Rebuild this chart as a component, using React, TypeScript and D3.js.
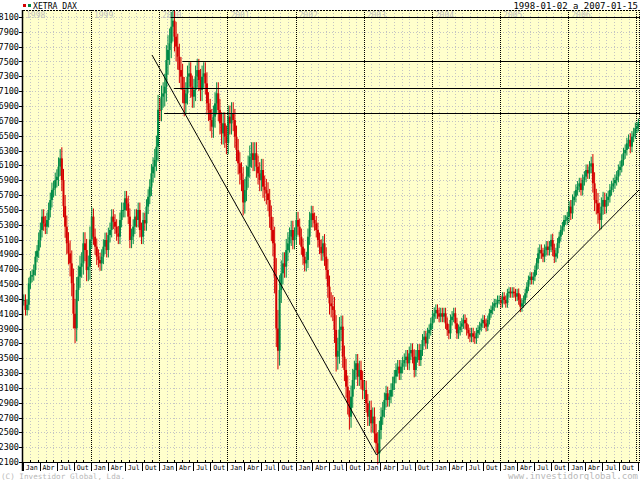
import React from "react";
import * as d3 from "d3";

// ---- data (approximate closes, ~weekly) ----
const Y1998 = [4285, 4150, 4220, 4509, 4599, 4620, 4688, 4868, 4950, 5093, 5228, 5408, 5318, 5273, 5363, 5498, 5632, 5767, 5790, 5902, 5947, 6082, 6194, 5902, 5550, 5273, 5048, 4913, 4778, 4509, 4100, 3902, 4419, 4599, 4733, 4778, 5048, 4958, 4688, 4733, 5100];
const Y1999 = [5408, 5138, 5003, 4868, 4823, 4778, 4868, 5003, 5093, 4958, 5160, 5228, 5408, 5340, 5273, 5183, 5138, 5363, 5498, 5498, 5655, 5588, 5408, 5093, 5138, 5273, 5408, 5363, 5498, 5228, 5138, 5363, 5318, 5543, 5677, 5812, 5992, 6082, 6172, 6351, 6850];
const Y2000 = [6846, 7026, 7070, 7160, 7520, 7655, 7745, 7969, 8050, 7835, 7700, 7565, 7385, 7295, 7116, 6936, 7070, 7295, 7340, 7160, 7026, 7116, 7295, 7385, 7250, 7116, 7295, 7340, 7205, 6936, 6846, 6711, 6621, 6756, 6936, 7070, 6846, 6666, 6531, 6666, 6486, 6400];
const Y2001 = [6756, 6666, 6801, 6711, 6486, 6306, 6127, 5992, 5902, 5600, 5767, 5947, 6082, 6217, 6262, 6172, 6262, 6082, 5992, 5902, 6037, 5812, 5767, 5722, 5632, 5408, 5228, 5048, 4599, 3900, 3600, 4419, 4644, 4778, 4734, 4958, 5048, 5138, 5228, 5093, 5138];
const Y2002 = [5363, 5273, 5138, 5003, 4868, 4779, 4824, 5138, 5363, 5453, 5363, 5318, 5228, 5093, 5003, 4914, 5048, 4869, 4689, 4464, 4239, 4200, 4150, 3880, 3520, 3600, 3880, 3925, 3520, 3341, 3116, 2891, 2711, 2981, 3206, 3341, 3431, 3251, 3341, 3206, 3071];
const Y2003 = [3071, 2891, 2711, 2801, 2621, 2711, 2487, 2352, 2217, 2531, 2711, 2801, 2936, 3026, 2936, 2981, 3071, 3161, 3251, 3341, 3385, 3296, 3385, 3431, 3475, 3520, 3431, 3565, 3610, 3520, 3341, 3520, 3610, 3475, 3610, 3745, 3790, 3700, 3835, 3880, 3970];
const Y2004 = [4060, 4105, 4150, 4105, 4060, 4105, 4060, 4105, 3970, 3880, 3835, 4015, 4060, 4105, 3970, 3835, 3880, 3925, 3970, 4015, 3970, 3880, 3835, 3790, 3835, 3790, 3768, 3835, 3880, 3925, 3970, 4015, 3970, 3925, 4015, 4105, 4150, 4195, 4240, 4240, 4285, 4285];
const Y2005 = [4240, 4330, 4285, 4240, 4375, 4397, 4375, 4397, 4375, 4330, 4375, 4285, 4195, 4240, 4285, 4375, 4464, 4554, 4599, 4554, 4599, 4689, 4779, 4914, 4959, 4914, 4869, 4959, 5004, 4959, 5004, 5094, 4959, 4869, 4914, 5049, 5139, 5228, 5273, 5363, 5363, 5408];
const Y2006 = [5543, 5453, 5633, 5678, 5768, 5813, 5857, 5768, 5902, 5947, 6037, 5992, 6082, 6127, 5857, 5633, 5588, 5453, 5363, 5543, 5633, 5543, 5633, 5678, 5768, 5813, 5857, 5902, 5947, 6037, 6082, 6172, 6262, 6307, 6397, 6442, 6352, 6487, 6532, 6599];
const Y2007 = [6621, 6666];

// estimated height (points) of the daily high-low band around each sample
const S1998 = [150, 150, 150, 150, 150, 150, 150, 150, 150, 200, 200, 200, 200, 200, 200, 200, 200, 200, 200, 200, 200, 250, 250, 300, 300, 300, 300, 300, 350, 350, 400, 400, 350, 300, 300, 300, 300, 300, 300, 300, 350];
const S1999 = [250, 220, 220, 220, 200, 200, 200, 200, 200, 200, 200, 200, 200, 200, 200, 200, 200, 200, 200, 200, 200, 200, 200, 220, 220, 200, 200, 200, 200, 200, 200, 200, 200, 200, 200, 200, 250, 250, 300, 300, 400];
const S2000 = [300, 300, 300, 350, 400, 400, 400, 400, 400, 400, 400, 350, 350, 350, 350, 350, 300, 300, 300, 300, 300, 300, 300, 300, 300, 300, 300, 300, 300, 300, 300, 300, 300, 300, 300, 300, 300, 300, 300, 300, 300, 300];
const S2001 = [300, 300, 300, 300, 300, 300, 300, 300, 300, 350, 300, 300, 300, 300, 300, 300, 300, 300, 300, 300, 300, 300, 300, 300, 300, 300, 300, 350, 450, 500, 500, 400, 350, 300, 300, 300, 300, 250, 250, 250, 250];
const S2002 = [220, 220, 220, 220, 220, 220, 220, 220, 220, 200, 200, 200, 200, 200, 200, 200, 200, 250, 250, 300, 300, 300, 300, 350, 400, 350, 350, 300, 300, 300, 300, 300, 350, 300, 300, 250, 250, 250, 250, 250, 250];
const S2003 = [250, 250, 250, 250, 250, 250, 250, 250, 300, 250, 250, 220, 200, 200, 180, 180, 180, 180, 180, 180, 180, 180, 180, 180, 180, 180, 180, 180, 180, 180, 200, 180, 160, 160, 160, 160, 160, 160, 150, 150, 150];
const S2004 = [160, 160, 150, 150, 150, 150, 150, 150, 150, 160, 160, 150, 150, 150, 150, 150, 150, 150, 150, 150, 150, 150, 150, 150, 150, 150, 150, 150, 130, 130, 130, 130, 130, 130, 120, 120, 120, 120, 120, 120, 120, 120];
const S2005 = [120, 120, 120, 120, 120, 120, 120, 120, 120, 120, 120, 130, 150, 140, 120, 120, 120, 120, 120, 120, 120, 120, 140, 150, 150, 150, 150, 150, 150, 150, 150, 150, 170, 170, 150, 140, 130, 130, 130, 130, 130, 130];
const S2006 = [150, 180, 150, 150, 150, 150, 150, 150, 150, 150, 150, 150, 150, 180, 250, 300, 300, 280, 280, 250, 220, 200, 180, 160, 160, 150, 150, 150, 150, 150, 150, 150, 150, 150, 150, 150, 180, 150, 150, 150];
const S2007 = [130, 130];

const YEARS = [1998, 1999, 2000, 2001, 2002, 2003, 2004, 2005, 2006, 2007];
const CLOSES = [Y1998, Y1999, Y2000, Y2001, Y2002, Y2003, Y2004, Y2005, Y2006, Y2007];
const SPREADS = [S1998, S1999, S2000, S2001, S2002, S2003, S2004, S2005, S2006, S2007];

const START = "1998-01-02";
const END = "2007-01-15";
const Y_TICKS = d3.range(2100, 8101, 200);
const QUARTER_LABELS = ["Jan", "Abr", "Jul", "Out"];
const GRID_PER_YEAR = 9;

// horizontal resistance levels and their start dates
const LEVELS = [8096, 7500, 7140, 6800];
const LEVEL_STARTS = ["2000-03-03", "2000-05-05", "2000-03-20", "2000-01-28"];

// trend lines (date, value)
const TREND_DATES = ["1999-11-24", "2003-03-11", "2007-01-15"];
const TREND_VALUES = [7588, 2194, 5767];

const TITLE = "XETRA DAX";
const RANGE_TEXT = "1998-01-02 a 2007-01-15";
const COPYRIGHT = "(C) Investidor Global, Lda.";
const WEBSITE = "www.investidorglobal.com";

const RED = "#d40000";
const GREEN = "#008a46";
const BG = "#ffffcc";
const GRID = "#c4c4c4";
const FONT = "DejaVu Sans Mono, monospace";

export default function App() {
  const W = 640, H = 480;
  const L = 23, R = 640, T = 10, B = 462;
  const parse = d3.timeParse("%Y-%m-%d");
  const d0 = parse(START) as Date;
  const d1 = parse(END) as Date;
  const x = d3.scaleTime().domain([d0, d1]).range([L, R - 1]);
  const y = d3.scaleLinear().domain([2100, 8100]).range([B, 17]);

  type Pt = { date: Date; close: number; spread: number };
  const series: Pt[] = [];
  YEARS.forEach((yr, i) => {
    const vals = CLOSES[i];
    const sp = SPREADS[i];
    const s = yr === 1998 ? d0 : new Date(yr, 0, 1);
    const e = yr === 2007 ? d1 : new Date(yr, 11, 31);
    vals.forEach((v, j) => {
      const t = new Date(+s + ((j + 0.5) / vals.length) * (+e - +s));
      series.push({ date: t, close: v, spread: sp[j] });
    });
  });

  const bars = series.map((p, i) => {
    const open = i > 0 ? series[i - 1].close : p.close;
    const up = p.close >= open;
    const hi = Math.max(open, p.close);
    const lo = Math.min(open, p.close);
    const top = y(hi);
    const bot = y(lo);
    return {
      cx: x(p.date),
      top,
      h: Math.max(1, bot - top),
      wTop: y(hi + p.spread / 2),
      wBot: y(lo - p.spread / 2),
      up,
    };
  });

  const yearStarts = d3.range(1999, 2008).map((yr) => new Date(yr, 0, 1));
  const gridDates: Date[] = [];
  for (let yr = 1998; yr <= 2006; yr++) {
    const a = new Date(yr, 0, 1), b = new Date(yr + 1, 0, 1);
    for (let k = 1; k < GRID_PER_YEAR; k++) gridDates.push(new Date(+a + (k / GRID_PER_YEAR) * (+b - +a)));
  }

  const quarters: { start: Date; end: Date; label: string }[] = [];
  for (let yr = 1998; yr <= 2007; yr++) {
    for (let q = 0; q < 4; q++) {
      quarters.push({ start: new Date(yr, q * 3, 1), end: new Date(yr, q * 3 + 3, 1), label: QUARTER_LABELS[q] });
    }
  }

  const trendLine = d3
    .line<number>()
    .x((_, i) => x(parse(TREND_DATES[i]) as Date))
    .y((v) => y(v));

  return (
    <svg width={W} height={H} style={{ position: "absolute", left: 0, top: 0, background: "#fff" }}>
      <defs>
        <clipPath id="plot">
          <rect x={L} y={T} width={R - L} height={B - T + 12} />
        </clipPath>
      </defs>
      <rect x={L} y={T} width={R - L} height={B - T} fill={BG} />
      {/* grid */}
      {Y_TICKS.map((v) => (
        <line key={"hg" + v} x1={L} x2={R} y1={Math.round(y(v)) + 0.5} y2={Math.round(y(v)) + 0.5} stroke={GRID} strokeDasharray="1,2" />
      ))}
      {gridDates.map((d, i) => (
        <g key={"vg" + i}>
          <line x1={Math.round(x(d)) + 0.5} x2={Math.round(x(d)) + 0.5} y1={T} y2={B} stroke={GRID} strokeDasharray="1,2" />
          <line x1={Math.round(x(d)) + 0.5} x2={Math.round(x(d)) + 0.5} y1={B - 2} y2={B} stroke="#000" />
        </g>
      ))}
      {yearStarts.map((d, i) => (
        <line key={"yl" + i} x1={Math.round(x(d)) + 0.5} x2={Math.round(x(d)) + 0.5} y1={T} y2={B} stroke="#000" strokeDasharray="1,1" />
      ))}
      {/* year labels */}
      {[new Date(1998, 0, 1), ...yearStarts.slice(0, 8)].map((d, i) => (
        <text key={"yt" + i} x={Math.max(L, x(d)) + 3} y={18} fontFamily={FONT} fontSize={8} fill="#c0c0c0">
          {d.getFullYear()}
        </text>
      ))}
      {/* bars */}
      <g clipPath="url(#plot)">
        {bars.map((b, i) => (
          <g key={"b" + i} fill={b.up ? GREEN : RED}>
            <rect x={b.cx - 0.5} y={b.wTop} width={1} height={b.wBot - b.wTop} />
            <rect x={b.cx - 1} y={b.top} width={2} height={b.h} />
          </g>
        ))}
      </g>
      {/* level lines */}
      {LEVELS.map((v, i) => (
        <line key={"lv" + i} x1={x(parse(LEVEL_STARTS[i]) as Date)} x2={R} y1={Math.round(y(v)) + 0.5} y2={Math.round(y(v)) + 0.5} stroke="#000" />
      ))}
      {/* trend lines */}
      <path d={trendLine(TREND_VALUES) || ""} fill="none" stroke="#000" strokeWidth={1} />
      {/* frame */}
      <line x1={L} x2={R} y1={T + 0.5} y2={T + 0.5} stroke="#000" strokeDasharray="2,1" />
      <line x1={L - 0.5} x2={L - 0.5} y1={T} y2={B + 9} stroke="#000" strokeWidth={1.5} />
      <line x1={L} x2={R} y1={B + 0.5} y2={B + 0.5} stroke="#000" />
      <line x1={R - 0.5} x2={R - 0.5} y1={T} y2={B} stroke="#000" strokeDasharray="1,1" />
      {/* y axis */}
      {Y_TICKS.map((v) => (
        <g key={"yt" + v}>
          <line x1={L - 4} x2={L} y1={Math.round(y(v)) + 0.5} y2={Math.round(y(v)) + 0.5} stroke="#000" />
          <text x={L - 4} y={y(v) + 3} textAnchor="end" fontFamily={FONT} fontSize={8.5} fill="#000">
            {v}
          </text>
        </g>
      ))}
      {/* x axis quarter labels */}
      <g clipPath="url(#plot)">
        {quarters
          .filter((q) => (Math.max(L, x(q.start)) + x(q.end)) / 2 < R - 6)
          .map((q, i) => {
            const xs = Math.max(L, x(q.start));
            const xe = x(q.end);
            return (
              <g key={"q" + i}>
                <line x1={Math.round(xs) + 0.5} x2={Math.round(xs) + 0.5} y1={B} y2={B + 9} stroke="#000" />
                <text x={(xs + xe) / 2 + 0.5} y={B + 7.5} textAnchor="middle" fontFamily={FONT} fontSize={7} textLength={12} lengthAdjust="spacingAndGlyphs" fill="#000">
                  {q.label}
                </text>
              </g>
            );
          })}
        <line x1={R - 1.5} x2={R - 1.5} y1={B} y2={B + 9} stroke="#000" />
      </g>
      {/* title */}
      <rect x={23} y={4} width={3} height={3} fill={RED} />
      <rect x={28} y={4} width={3} height={3} fill={GREEN} />
      <text x={33} y={8.5} fontFamily={FONT} fontSize={9} textLength={44} lengthAdjust="spacingAndGlyphs" fill="#000">
        {TITLE}
      </text>
      <text x={638} y={8.5} textAnchor="end" fontFamily={FONT} fontSize={9} fill="#000">
        {RANGE_TEXT}
      </text>
      <text x={1} y={478.5} fontFamily={FONT} fontSize={7.5} textLength={124} lengthAdjust="spacingAndGlyphs" fill="#b8b8b8">
        {COPYRIGHT}
      </text>
      <text x={638} y={478.5} textAnchor="end" fontFamily={FONT} fontSize={8} textLength={130} lengthAdjust="spacingAndGlyphs" fill="#b8b8b8">
        {WEBSITE}
      </text>
    </svg>
  );
}
